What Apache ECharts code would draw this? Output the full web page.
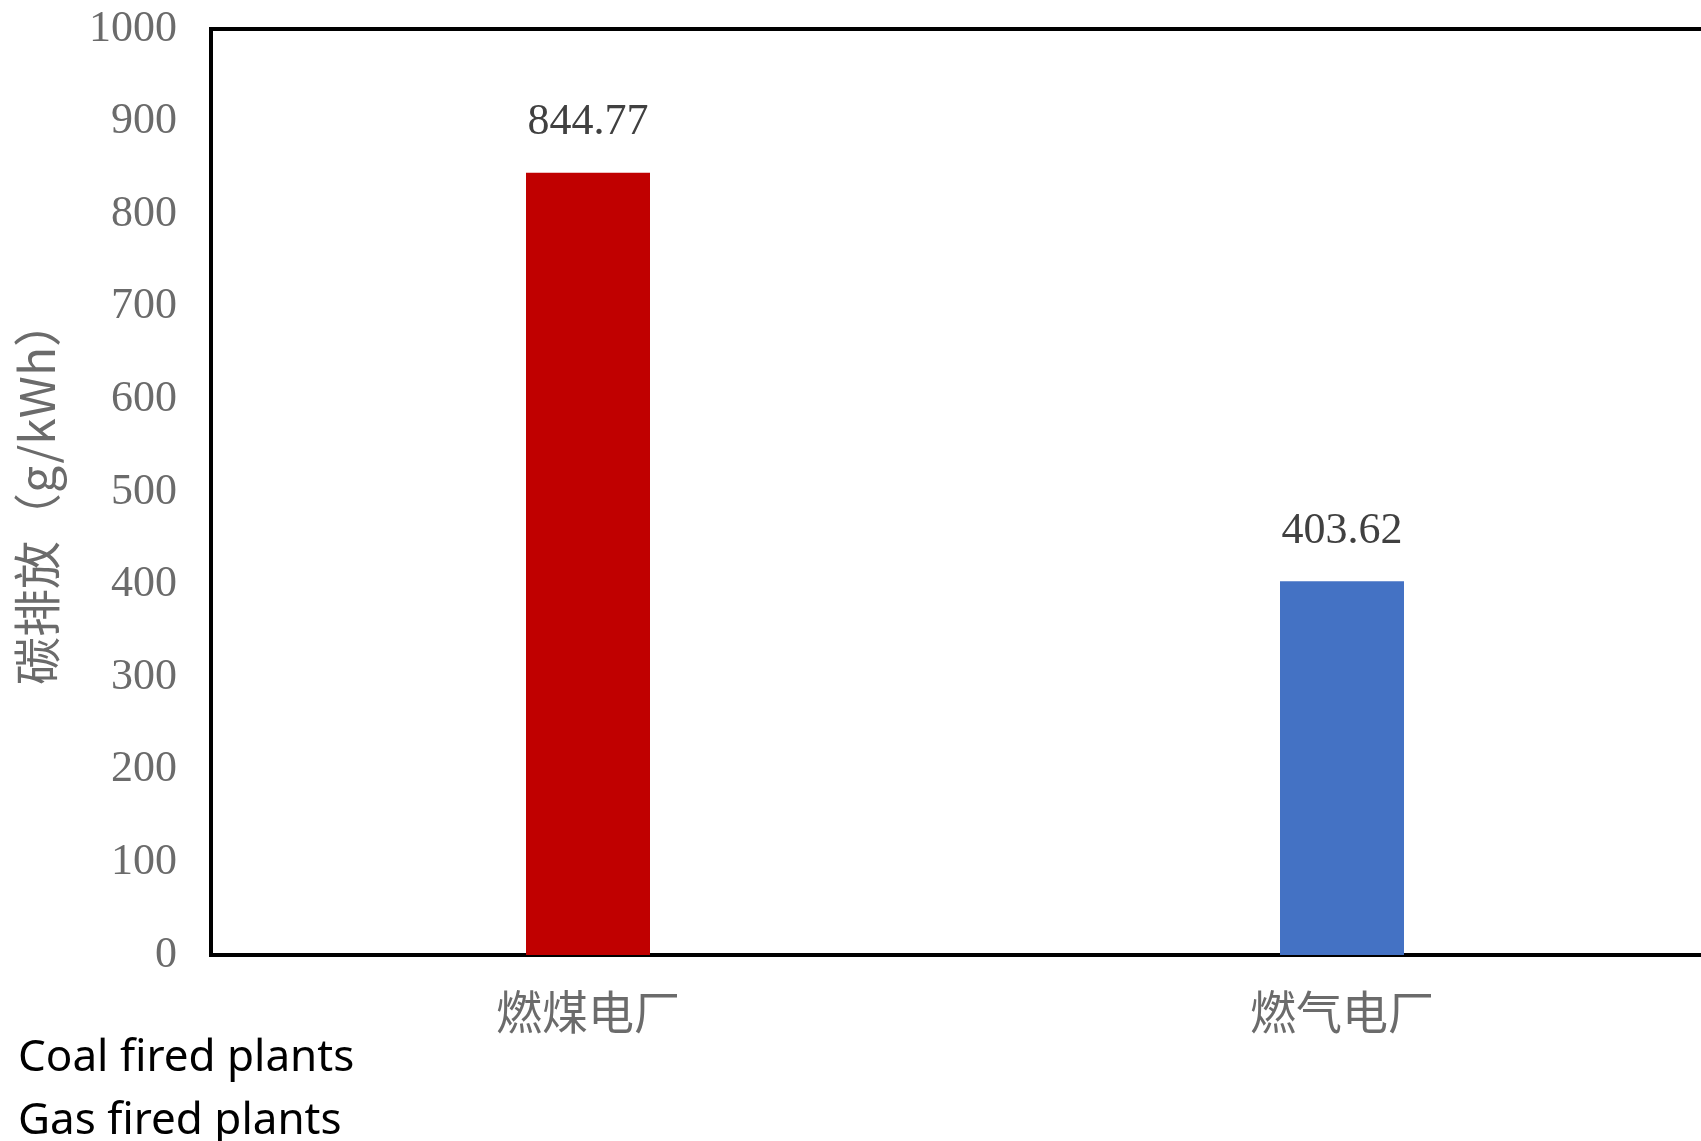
<!DOCTYPE html>
<html>
<head>
<meta charset="utf-8">
<script src="https://cdn.jsdelivr.net/npm/echarts@6/dist/echarts.min.js"></script>
<style>
  html, body { margin: 0; padding: 0; background: #fff; }
  #chart { width: 1701px; height: 1141px; }
</style>
</head>
<body>
<div id="chart"></div>
<script>
// Carbon emission per kWh for two kinds of power plant
const categories = ['燃煤电厂', '燃气电厂'];
const emissions = [844.77, 403.62];
const barColors = ['#C00000', '#4472C4'];
const yTicks = { min: 0, max: 1000, interval: 100 };
const yAxisName = '碳排放（g/kWh）';
const notes = ['Coal fired plants', 'Gas fired plants'];

const serif = "'Liberation Serif', 'Noto Sans CJK SC', serif";
const cjk = "'Noto Sans CJK SC', 'Liberation Serif', serif";

const chart = echarts.init(document.getElementById('chart'), null, { renderer: 'canvas' });

chart.setOption({
  backgroundColor: '#ffffff',
  animation: false,
  grid: {
    left: 211, top: 29, height: 926, width: 1508,
    outerBoundsMode: 'none',
    containLabel: false,
    show: true, borderColor: '#000', borderWidth: 4, backgroundColor: 'transparent'
  },
  xAxis: {
    type: 'category',
    data: categories,
    axisLine: { lineStyle: { color: '#000', width: 4 } },
    axisTick: { show: false },
    axisLabel: { color: '#6b6b6b', fontSize: 46, fontFamily: cjk, margin: 34 }
  },
  yAxis: {
    type: 'value',
    min: yTicks.min, max: yTicks.max, interval: yTicks.interval,
    name: yAxisName,
    nameLocation: 'middle',
    nameRotate: 90,
    nameGap: 150,
    nameTextStyle: { color: '#6b6b6b', fontSize: 48, fontFamily: cjk },
    axisLine: { show: true, lineStyle: { color: '#000', width: 4 } },
    axisTick: { show: false },
    splitLine: { show: false },
    axisLabel: { color: '#6b6b6b', fontSize: 44, fontFamily: serif, margin: 34, formatter: v => String(v) }
  },
  series: [{
    type: 'bar',
    barWidth: 124,
    data: emissions.map((v, i) => ({ value: v, itemStyle: { color: barColors[i] } })),
    label: {
      show: true,
      position: 'top',
      distance: 28,
      color: '#404040',
      fontSize: 44,
      fontFamily: serif,
      formatter: p => p.value.toFixed(2)
    }
  }],
  graphic: notes.map((t, i) => ({
    type: 'text',
    left: 18,
    top: 1036 + i * 63,
    style: { text: t, fill: '#000', fontSize: 44, fontFamily: "'Noto Sans', sans-serif" }
  }))
});
</script>
</body>
</html>
